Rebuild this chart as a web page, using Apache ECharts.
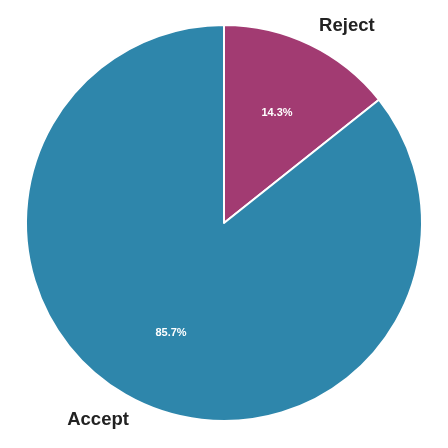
<!DOCTYPE html>
<html>
<head>
<meta charset="utf-8">
<script src="https://cdn.jsdelivr.net/npm/echarts@6/dist/echarts.min.js"></script>
<style>
html, body { margin: 0; padding: 0; background: #fff; }
#box { width: 448px; height: 448px; }
</style>
</head>
<body>
<div id="box"></div>
<script>
var categories = ['Reject', 'Accept'];
var values = [14.3, 85.7];
var colors = ['#A23B72', '#2E86AB'];

var chart = echarts.init(document.getElementById('box'));

var pieData = categories.map(function (name, i) {
    return { name: name, value: values[i], itemStyle: { color: colors[i] } };
});
var ringData = categories.map(function (name, i) {
    return { name: name, value: values[i] };
});

var option = {
    animation: false,
    series: [
        {
            // the pie itself, with the names outside
            type: 'pie',
            center: [224, 223],
            radius: [0, 198],
            startAngle: 90,
            clockwise: true,
            avoidLabelOverlap: false,
            data: pieData,
            itemStyle: { borderColor: '#fff', borderWidth: 2 },
            label: {
                show: true,
                position: 'outside',
                formatter: '{b}',
                color: '#222',
                fontSize: 18.5,
                fontWeight: 'bold',
                fontFamily: 'Liberation Sans, Arial, sans-serif',
                distanceToLabelLine: 0
            },
            labelLine: { show: false, length: 21, length2: 0 },
            emphasis: { disabled: true }
        },
        {
            // invisible ring, only used to place the percentages at 0.6 r
            type: 'pie',
            center: [224, 223],
            radius: [40, 198],
            startAngle: 90,
            clockwise: true,
            silent: true,
            data: ringData,
            itemStyle: { color: 'rgba(0,0,0,0)' },
            label: {
                show: true,
                position: 'inside',
                formatter: function (p) { return p.value.toFixed(1) + '%'; },
                color: '#fff',
                fontSize: 11,
                fontWeight: 'bold',
                fontFamily: 'Liberation Sans, Arial, sans-serif'
            },
            labelLine: { show: false },
            emphasis: { disabled: true }
        }
    ]
};

chart.setOption(option);
</script>
</body>
</html>
